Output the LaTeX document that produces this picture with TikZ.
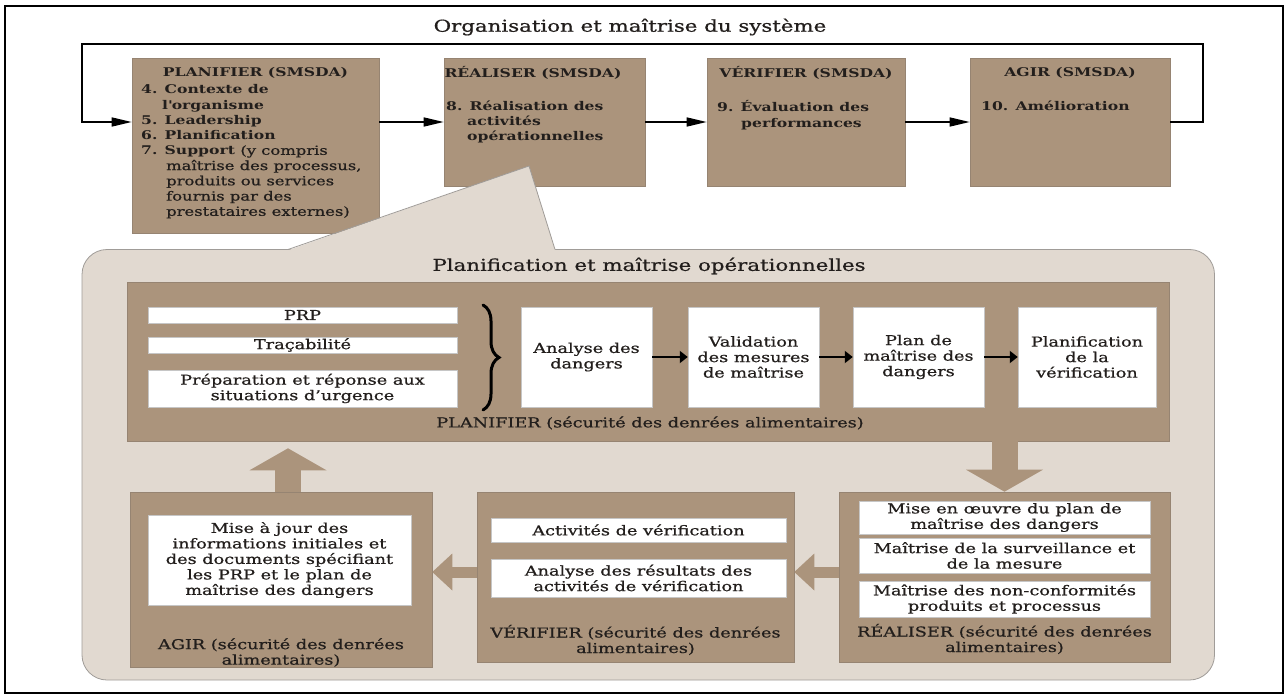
\documentclass[tikz,border=0pt]{standalone}
\usepackage{fontspec}
\setmainfont{DejaVu Serif}[FakeStretch=1.3,UprightFeatures={FakeBold=0.7}]
\usetikzlibrary{arrows.meta,calc,decorations.pathreplacing}

\definecolor{brn}{RGB}{171,148,124}
\definecolor{brnedge}{RGB}{150,132,114}
\definecolor{pnl}{RGB}{225,217,208}
\definecolor{pnledge}{RGB}{160,156,152}
\definecolor{ink}{RGB}{34,30,28}

\newcommand\fhead{\fontsize{16.4}{19}\selectfont}
\newcommand\ftop{\fontsize{12}{15.25}\selectfont\bfseries}
\newcommand\ftopreg{\fontsize{12.6}{15.25}\selectfont\mdseries}
\newcommand\fbody{\fontsize{13.6}{15.5}\selectfont}

\begin{document}
\begin{tikzpicture}[x=1pt,y=-1pt,
  brownbox/.style={fill=brn,draw=brnedge,line width=0.6pt,inner sep=0pt},
  whitebox/.style={fill=white,draw=gray!45,line width=0.5pt,inner sep=0pt,text=ink,font=\fbody,align=center},
  headtext/.style={text=ink,font=\fhead,inner sep=0pt},
  toptitle/.style={text=ink,font=\ftop,inner sep=0pt},
  toplist/.style={text=ink,font=\ftop,inner sep=0pt,align=left,anchor=north west},
  boxcaption/.style={text=ink,font=\fbody,inner sep=0pt,align=center},
  thinarrow/.style={draw=black,line width=1.5pt,-{Triangle[length=20pt,width=9pt]}},
  flowarrow/.style={draw=black,line width=2.7pt,-{Triangle[length=8pt,width=12pt]}},
  fatdown/.style={draw=brn,line width=26pt,-{Triangle[length=22pt,width=77pt,line width=0pt]}},
  fatside/.style={draw=brn,line width=11pt,-{Triangle[length=20pt,width=37pt,line width=0pt]}},
]
\useasboundingbox (0,0) rectangle (1288,698);
\fill[white] (0,0) rectangle (1288,698);
\draw[line width=2.5pt] (5,6) rectangle (1283,693);

% ---- system level: PDCA of the management system ----
\node[headtext] (systitle) at (630,27) {Organisation et maîtrise du système};

\node[brownbox,minimum width=247pt,minimum height=175pt] (plant) at (255.5,145.5) {};
\node[brownbox,minimum width=201pt,minimum height=128pt] (realt) at (544.5,122) {};
\node[brownbox,minimum width=198pt,minimum height=128pt] (verift) at (806,122) {};
\node[brownbox,minimum width=200pt,minimum height=128pt] (agirt) at (1070,122) {};

\draw[thinarrow] (plant.east |- realt.east) -- (realt.west);
\draw[thinarrow] (realt.east) -- (verift.west);
\draw[thinarrow] (verift.east) -- (agirt.west);
\coordinate (loopR) at (1203,44);
\coordinate (loopL) at (82,44);
\draw[thinarrow] (agirt.east) -| (loopR) -- (loopL) |- (plant.west |- realt.west);

% ---- operational planning and control panel ----
\draw[fill=pnl,draw=pnledge,line width=0.8pt,rounded corners=25pt] (82,249.5) rectangle (1214.5,680);
\fill[pnl] (529,166) -- (286,251) -- (555.5,251) -- cycle;
\draw[pnledge,line width=0.8pt] (288,249.5) -- (529,166) -- (555,249.5);

% texts of the system level boxes
\node[toptitle] (plant-t) at (255.5,73) {PLANIFIER (SMSDA)};
\node[toplist] (plant-l) at (141,84.5) {4. Contexte de\\
\hspace*{21pt}l\textquotesingle organisme\\
5. Leadership\\
6. Planification\\
7. Support {\ftopreg (y compris}\\
\hspace*{25pt}{\ftopreg maîtrise des processus,}\\
\hspace*{25pt}{\ftopreg produits ou services}\\
\hspace*{25pt}{\ftopreg fournis par des}\\
\hspace*{25pt}{\ftopreg prestataires externes)}};

\node[toptitle] (realt-t) at (533,73) {RÉALISER (SMSDA)};
\node[toplist] (realt-l) at (446,100.5) {8. Réalisation des\\
\hspace*{21pt}activités\\
\hspace*{21pt}opérationnelles};

\node[toptitle] (verift-t) at (806,73) {VÉRIFIER (SMSDA)};
\node[toplist] (verift-l) at (717,100.5) {9. Évaluation des\\
\hspace*{24pt}performances};

\node[toptitle] (agirt-t) at (1070,73) {AGIR (SMSDA)};
\node[toplist] (agirt-l) at (981,100.5) {10. Amélioration};

\node[headtext] (pnltitle) at (649,266) {Planification et maîtrise opérationnelles};

% ---- PLANIFIER (food safety) ----
\node[brownbox,minimum width=1042pt,minimum height=159pt] (pbig) at (648,361.5) {};
\node[whitebox,minimum width=309pt,minimum height=16pt] (prp) at (302.5,315) {PRP};
\node[whitebox,minimum width=309pt,minimum height=16pt] (trac) at (302.5,345) {Traçabilité};
\node[whitebox,minimum width=309pt,minimum height=37pt] (prep) at (302.5,388.5) {Préparation et réponse aux\\situations d’urgence};
\draw[decorate,decoration={brace,amplitude=16pt},line width=3pt,line cap=round] (483,305) -- (483,410);

\node[whitebox,minimum width=131pt,minimum height=100pt] (b1) at (586.5,357) {Analyse des\\dangers};
\node[whitebox,minimum width=131pt,minimum height=100pt] (b2) at (753.5,357) {Validation\\des mesures\\de maîtrise};
\node[whitebox,minimum width=131pt,minimum height=100pt] (b3) at (918.5,357) {Plan de\\maîtrise des\\dangers};
\node[whitebox,minimum width=138pt,minimum height=100pt] (b4) at (1087,357) {Planification\\de la\\vérification};
\draw[flowarrow] (b1) -- (b2);
\draw[flowarrow] (b2) -- (b3);
\draw[flowarrow] (b3) -- (b4);
\node[boxcaption] (pbig-c) at (650,423) {PLANIFIER (sécurité des denrées alimentaires)};

% ---- lower row: RÉALISER, VÉRIFIER, AGIR (food safety) ----
\node[brownbox,minimum width=302pt,minimum height=175pt] (agirb) at (281,579.5) {};
\node[brownbox,minimum width=317pt,minimum height=170pt] (verb) at (635.5,577) {};
\node[brownbox,minimum width=331pt,minimum height=170pt] (realb) at (1004.5,577) {};

\node[whitebox,minimum width=263pt,minimum height=90pt] (agirw) at (279.5,560) {Mise à jour des\\informations initiales et\\des documents spécifiant\\les PRP et le plan de\\maîtrise des dangers};
\node[boxcaption] (agirb-c) at (281,652.5) {AGIR (sécurité des denrées\\alimentaires)};

\node[whitebox,minimum width=295pt,minimum height=24pt] (verw1) at (638.5,530) {Activités de vérification};
\node[whitebox,minimum width=295pt,minimum height=38pt] (verw2) at (638.5,578) {Analyse des résultats des\\activités de vérification};
\node[boxcaption] (verb-c) at (635.5,640) {VÉRIFIER (sécurité des denrées\\alimentaires)};

\node[whitebox,minimum width=291pt,minimum height=33pt] (realw1) at (1004.5,517.5) {Mise en œuvre du plan de\\maîtrise des dangers};
\node[whitebox,minimum width=291pt,minimum height=35pt] (realw2) at (1004.5,555.5) {Maîtrise de la surveillance et\\de la mesure};
\node[whitebox,minimum width=291pt,minimum height=36pt] (realw3) at (1004.5,599) {Maîtrise des non-conformités\\produits et processus};
\node[boxcaption] (realb-c) at (1004.5,639) {RÉALISER (sécurité des denrées\\alimentaires)};

% ---- block arrows of the operational cycle ----
\draw[fatdown] (realb.north |- pbig.south) -- (realb.north);
\coordinate (upfoot) at ($(agirb.north)+(7,0)$);
\coordinate (uptip) at ($(agirb.north |- pbig.south)+(7,7)$);
\draw[fatdown] (upfoot) -- (uptip);
\coordinate (rv) at ($(realb.west)+(0,-5)$);
\draw[fatside] (rv) -- (rv -| verb.east);
\coordinate (va) at ($(verb.west)+(0,-5)$);
\draw[fatside] (va) -- (va -| agirb.east);
\end{tikzpicture}
\end{document}
